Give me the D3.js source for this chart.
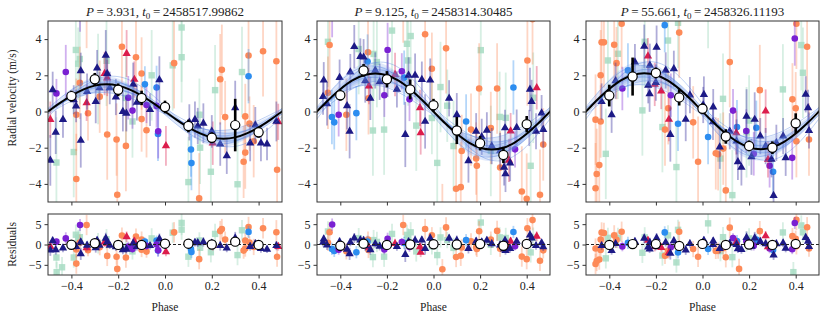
<!DOCTYPE html>
<html>
<head>
<meta charset="utf-8">
<script src="https://cdn.jsdelivr.net/npm/d3@7"></script>
<style>
  body { margin: 0; background: #fff; }
  svg text { font-family: "Liberation Serif", "DejaVu Serif", serif; fill: #222; }
  .axis text { font-size: 12px; }
  .axis line { stroke: #333; }
</style>
</head>
<body>
<svg id="chart" width="831" height="320"></svg>
<script>
// ---- data ----
var phaseTicks = [-0.4, -0.2, 0, 0.2, 0.4];
var rvTicks = [-4, -2, 0, 2, 4];
var resTicks = [-5, 0, 5];

var periods = ["3.931", "9.125", "55.661"];
var epochs = ["2458517.99862", "2458314.30485", "2458326.11193"];

// model curve sampled every 0.05 in phase
var modelPhase = [-0.55,-0.5,-0.45,-0.4,-0.35,-0.3,-0.25,-0.2,-0.15,-0.1,-0.05,0,0.05,0.1,0.15,0.2,0.25,0.3,0.35,0.4,0.45,0.5,0.55];
var p1Model = [-0.46,0,0.46,0.88,1.21,1.43,1.5,1.43,1.21,0.88,0.46,0,-0.46,-0.88,-1.21,-1.43,-1.5,-1.43,-1.21,-0.88,-0.46,0,0.46];
var p2Model = [-0.65,0,0.65,1.23,1.7,2.0,2.1,2.0,1.7,1.23,0.65,0,-0.65,-1.23,-1.7,-2.0,-2.1,-2.0,-1.7,-1.23,-0.65,0,0.65];
var p3Model = [-0.65,0,0.66,1.25,1.72,2.02,2.12,2.02,1.72,1.25,0.66,0,-0.64,-1.22,-1.68,-1.98,-2.08,-1.98,-1.68,-1.22,-0.64,0,0.66];

// posterior draws: amplitude scale and phase offset
var drawScale = [0.7, 0.8, 0.9, 1.1, 1.2, 1.3];
var drawShift = [-0.022, 0.018, -0.01, 0.012, -0.016, 0.024];

// points: [phase, rv, err, residual]
var p1Navy = [[-0.49,-2.7,1.4,-1.4],[-0.48,1.2,1.0,0.9],[-0.467,-1.15,1.2,-1.3],[-0.436,-0.45,1.0,-0.9],[-0.39,0.65,0.8,-0.2],[-0.38,0.3,0.9,-0.5],[-0.36,2.25,1.0,0.6],[-0.36,-1.6,1.5,-2.3],[-0.333,1.1,1.0,-0.2],[-0.29,2.4,1.0,1.0],[-0.296,0.55,1.2,-0.8],[-0.28,1.3,0.9,-0.2],[-0.253,3.1,1.4,1.5],[-0.247,2.1,1.0,0.6],[-0.236,1.3,0.9,-0.2],[-0.21,0.8,1.0,-0.6],[-0.18,0.0,1.1,-1.3],[-0.165,-0.1,1.0,-1.2],[-0.136,1.5,1.2,0.3],[-0.12,0.5,1.0,-0.5],[-0.064,0.1,0.9,-0.3],[-0.024,1.75,1.3,1.4],[0.104,-0.6,1.0,0.3],[0.128,-0.45,1.0,0.5],[0.14,-0.8,1.0,0.4],[0.164,-0.65,1.1,0.6],[0.2,-1.1,0.9,0.3],[0.236,-1.8,1.2,-0.3],[0.264,-2.45,1.0,-0.9],[0.3,0.2,1.5,1.6],[0.364,-1.75,1.0,-0.5],[0.386,-0.75,1.0,0.2],[0.41,-1.75,1.0,-1.0],[0.436,-1.8,0.9,-1.2],[0.476,-0.55,1.1,-0.3]];
var p1Crimson = [[-0.49,-0.45,1.0,-0.5],[-0.335,0.48,1.0,-0.8],[-0.258,2.1,1.2,0.6],[-0.247,1.85,1.0,0.3],[-0.164,3.2,1.3,1.9],[-0.131,1.77,1.0,0.8],[0.004,-1.9,1.1,-1.8],[0.204,-1.75,1.2,-0.3],[0.484,-0.57,1.0,-0.5]];
var p1Orange = [[-0.379,-3.73,2.5,-4.7],[-0.379,-0.18,2.0,-1.2],[-0.364,1.58,2.0,0.45],[-0.335,6.0,2.5,4.8],[-0.329,-0.1,1.5,-1.4],[-0.279,0.82,2.0,-0.65],[-0.247,-1.27,2.5,-2.8],[-0.207,-1.55,2.0,-3.0],[-0.204,-4.6,3.0,-6.0],[-0.184,3.58,2.0,2.2],[-0.167,-1.9,2.5,-3.2],[-0.124,3.0,2.0,1.95],[-0.1,2.1,2.0,1.2],[-0.1,-0.42,1.8,-1.3],[-0.079,-1.04,1.5,-1.75],[0.039,2.67,2.5,3.0],[0.146,-4.8,2.5,-3.6],[0.236,1.78,2.5,3.3],[0.243,2.3,2.5,3.8],[0.257,-0.31,2.0,1.2],[0.343,-0.27,1.8,1.0],[0.343,-2.27,2.0,-1.0],[0.336,-2.78,2.0,-1.5],[0.357,3.09,2.5,4.3],[0.361,-0.67,1.5,0.5],[0.379,-1.64,2.0,-0.6],[0.419,3.33,2.5,4.0],[0.476,2.78,3.0,3.0],[0.479,-3.22,2.5,-3.0]];
var p1Mint = [[-0.464,-2.82,2.5,-3.2],[-0.463,-9.0,2.5,-6.8],[-0.44,-8.5,2.5,-5.6],[-0.39,-2.24,2.5,-3.2],[-0.381,3.4,2.5,2.4],[-0.371,2.64,2.0,1.6],[-0.364,2.9,2.5,1.8],[-0.286,1.8,2.5,0.3],[-0.25,2.8,2.5,1.3],[-0.167,0.75,2.5,-0.55],[-0.139,-0.55,2.0,-1.7],[-0.057,2.0,2.5,1.5],[0.033,2.55,2.5,2.9],[0.071,4.64,3.0,5.3],[0.071,3.0,2.5,3.65],[0.1,-3.9,2.5,-3.0],[0.147,-0.18,2.0,1.0],[0.15,-2.0,2.0,-0.8],[0.196,-3.33,2.5,-1.9],[0.214,1.18,2.5,2.6],[0.31,-4.02,2.5,-2.6],[0.329,2.18,2.5,3.5]];
var p1Purple = [[-0.464,1.0,0.8,0.7],[-0.424,2.18,1.5,1.5],[-0.363,5.9,1.5,4.8],[-0.157,0.76,1.2,-0.5],[-0.139,0.05,1.0,-1.1],[-0.079,0.36,1.0,-0.35],[-0.036,0.31,1.2,0.0],[-0.029,-1.09,1.5,-1.4]];
var p1Blue = [[-0.086,1.5,1.0,0.7],[-0.036,1.33,1.2,1.0],[-0.03,-1.24,1.5,-1.5],[0.111,-2.1,1.5,-1.1],[0.113,-2.85,1.5,-1.85],[0.357,1.95,1.5,3.1]];

var p2Navy = [[-0.471,1.73,1.0,1.35],[-0.474,0.82,1.0,0.5],[-0.457,0.42,1.2,-0.14],[-0.403,1.87,1.0,0.67],[-0.371,0.31,1.3,-1.2],[-0.36,-1.09,1.5,-2.3],[-0.357,2.18,1.0,0.55],[-0.34,3.58,1.2,1.6],[-0.314,3.04,1.0,1.1],[-0.3,3.0,1.0,1.0],[-0.293,1.69,1.2,-0.33],[-0.271,0.73,1.2,-1.3],[-0.25,2.27,1.0,0.17],[-0.231,1.64,1.0,-0.45],[-0.197,2.0,1.2,0.0],[-0.157,1.22,1.0,-0.53],[-0.121,-1.27,1.8,-2.5],[-0.107,2.0,1.0,0.69],[-0.079,2.0,1.2,1.0],[-0.05,1.76,1.0,1.1],[-0.036,-0.55,1.5,-1.0],[-0.014,1.73,1.2,1.5],[0.067,0.73,1.0,1.5],[0.1,-0.18,1.2,1.0],[0.15,-2.73,1.2,-1.0],[0.183,-1.09,1.0,0.8],[0.207,-1.4,1.0,0.6],[0.229,-1.04,1.0,1.0],[0.25,-1.91,1.0,0.19],[0.286,-2.18,1.0,-0.13],[0.307,-0.91,1.0,1.0],[0.303,-3.09,1.0,-1.1],[0.309,-3.45,1.0,-1.5],[0.329,-2.85,1.0,-1.0],[0.357,-0.89,1.0,0.75],[0.411,-0.91,1.0,0.2],[0.414,1.22,1.2,2.3],[0.421,0.55,1.2,1.55],[0.44,-1.09,1.0,-0.3],[0.464,-0.09,1.0,0.38],[0.471,-1.0,1.0,-0.6]];
var p2Crimson = [[-0.277,1.4,1.0,-0.7],[-0.165,2.04,1.2,0.2],[-0.058,0.2,1.0,-0.55],[-0.055,-1.18,1.2,-1.9],[0.331,-1.08,1.0,0.8],[0.324,-2.7,1.2,-0.8],[0.443,1.31,1.2,2.0]];
var p2Orange = [[-0.446,3.67,2.5,3.0],[-0.453,1.04,2.0,0.43],[-0.374,-0.18,2.0,-1.67],[-0.281,3.27,2.0,1.2],[-0.279,0.73,2.0,-1.34],[-0.13,6.3,2.5,4.8],[-0.036,4.27,2.5,3.8],[-0.007,2.36,2.0,2.27],[0.038,-6.5,2.5,-6.1],[0.054,3.49,2.5,4.2],[0.121,-2.18,2.0,-0.73],[0.097,-4.27,2.5,-3.07],[0.117,-4.18,2.5,-2.77],[0.161,-1.0,2.0,0.78],[0.183,-2.6,2.0,-0.68],[0.186,-3.0,2.0,-1.08],[0.196,1.27,2.5,3.25],[0.246,-0.91,2.0,1.19],[0.273,1.27,2.5,3.35],[0.286,-3.09,2.0,-1.04],[0.403,2.82,2.5,4.0],[0.379,-4.42,2.5,-2.97],[0.4,-4.82,2.5,-3.6],[0.425,5.1,2.5,6.0],[0.457,-4.6,2.5,-4.0],[0.471,-1.82,2.0,-1.44]];
var p2Mint = [[-0.453,3.85,2.5,3.2],[-0.321,3.45,2.5,1.56],[-0.257,3.18,2.5,1.08],[-0.243,2.73,2.5,0.63],[-0.26,-1.05,2.5,-3.1],[-0.212,-1.0,2.5,-3.0],[-0.178,4.47,2.5,2.6],[-0.098,4.17,2.5,3.0],[-0.114,3.74,2.5,2.36],[-0.109,2.82,2.5,1.5],[-0.074,-0.78,2.5,-1.7],[-0.007,-0.36,2.0,-0.45],[0.016,-2.84,2.5,-2.6],[0.03,1.35,2.5,1.74],[0.059,0.32,2.0,1.08],[0.086,-1.91,2.5,-0.83],[0.203,3.39,2.5,5.4],[0.246,-2.18,2.5,-0.08],[0.284,-0.3,2.5,1.75],[0.31,-0.35,2.5,1.6],[0.417,-3.0,2.5,-1.94],[0.428,0.76,2.5,1.68]];
var p2Purple = [[-0.435,5.6,1.5,4.9],[-0.407,-0.18,1.2,-1.3],[-0.197,3.4,1.5,1.4],[-0.211,0.9,1.2,-1.2],[-0.136,2.22,1.0,0.6],[-0.103,0.67,1.2,-0.6],[0.35,-2.09,1.0,-0.4]];
var p2Blue = [[-0.436,-0.31,1.5,-1.1],[-0.426,-0.6,1.5,-1.57],[-0.331,-0.09,1.5,-1.9],[-0.283,2.76,1.5,0.7],[-0.126,1.87,1.5,0.37],[0.14,-0.55,1.5,1.07],[0.343,1.33,1.5,3.08]];

var p3Navy = [[-0.433,0.55,1.0,-0.3],[-0.39,-0.18,1.0,-1.5],[-0.373,1.7,1.0,0.2],[-0.29,2.73,1.0,0.7],[-0.25,3.6,1.2,1.5],[-0.233,1.45,1.0,-0.64],[-0.226,2.55,1.2,0.47],[-0.227,0.98,1.0,-1.1],[-0.2,1.6,1.0,-0.4],[-0.197,3.55,1.2,1.57],[-0.158,2.27,1.0,0.5],[-0.138,-1.27,1.5,-2.2],[-0.123,2.36,1.0,0.9],[-0.072,-0.44,1.2,-1.36],[-0.054,0.91,1.0,0.2],[0.006,0.94,1.0,1.0],[0.003,0.36,1.0,0.4],[0.046,0.24,1.0,0.84],[0.045,-0.57,1.0,0.0],[0.074,-1.97,1.2,-1.0],[0.117,-1.09,1.0,0.3],[0.146,-1.64,1.2,0.0],[0.152,-2.78,1.0,-1.07],[0.167,-3.09,1.0,-1.27],[0.189,-0.27,1.5,1.68],[0.21,-2.5,1.0,-0.47],[0.224,-0.44,1.5,1.6],[0.248,-1.36,1.0,0.74],[0.271,-1.91,1.0,0.17],[0.296,-2.64,1.0,-0.6],[0.305,-4.64,1.2,-2.6],[0.317,-1.73,1.0,0.18],[0.346,-1.36,1.0,0.37],[0.357,-2.56,1.0,-0.92],[0.443,0.95,1.0,1.7],[0.453,0.2,1.0,0.8],[0.457,-1.05,1.0,-0.5]];
var p3Crimson = [[-0.234,3.06,1.0,1.0],[-0.205,1.5,1.2,-0.5],[-0.177,1.13,1.0,-0.75],[-0.144,-0.44,1.2,-2.0],[0.145,-1.18,1.2,0.5],[0.271,0.02,1.2,2.1],[0.281,-2.65,1.0,-0.6]];
var p3Orange = [[-0.459,-0.45,2.5,-1.0],[-0.454,-3.45,2.5,-4.05],[-0.459,-4.24,2.5,-4.8],[-0.443,-2.96,2.5,-3.7],[-0.437,2.0,2.5,1.2],[-0.437,-0.55,2.0,-1.37],[-0.433,3.82,2.5,2.96],[-0.423,3.82,2.5,2.84],[-0.379,3.69,2.5,2.24],[-0.369,2.67,2.0,1.13],[-0.347,4.85,2.5,3.13],[-0.147,0.18,2.0,-1.5],[-0.161,-1.0,2.0,-2.78],[-0.1,4.36,2.5,3.13],[-0.04,-0.6,2.0,-1.12],[-0.019,-2.78,2.5,-3.03],[0.057,-2.31,2.0,-1.57],[0.067,-2.36,2.0,-1.5],[0.089,-2.05,2.0,-0.94],[0.1,-4.36,2.5,-3.13],[0.117,2.73,2.5,4.14],[0.157,-8.0,2.5,-6.0],[0.246,1.18,2.5,3.28],[0.386,0.67,2.0,2.05],[0.4,0.18,2.0,1.41],[0.403,-1.64,2.0,-0.44],[0.403,4.85,2.5,6.05],[0.457,-1.55,2.0,-0.99],[0.449,3.58,2.5,4.24]];
var p3Mint = [[-0.415,-2.34,2.5,-3.4],[-0.406,2.82,2.5,1.64],[-0.363,3.19,2.5,1.59],[-0.248,3.85,2.5,1.75],[-0.258,0.06,2.5,-2.03],[-0.148,3.92,2.5,2.24],[-0.172,-0.86,2.5,-2.71],[-0.112,-3.07,2.5,-4.4],[-0.105,4.9,2.5,3.6],[0.024,6.0,2.5,5.2],[0.088,0.7,2.5,1.8],[0.077,-2.6,2.5,-1.62],[0.128,-4.62,2.5,-3.11],[0.2,-0.5,2.5,1.5],[0.189,-1.15,2.5,0.8],[0.345,1.22,2.5,2.96],[0.39,-8.0,2.5,-6.8],[0.424,3.67,2.5,4.67],[0.431,2.14,2.5,3.02]];
var p3Purple = [[-0.344,1.27,1.2,-0.47],[-0.136,0.9,1.2,-0.69],[0.131,0.05,1.2,1.59],[0.188,-1.08,1.2,0.87],[0.22,-2.34,1.2,-0.28],[0.288,-3.0,1.2,-0.96],[0.385,-2.56,1.2,-1.17],[0.396,4.03,1.5,5.3]];
var p3Blue = [[-0.162,4.77,1.5,2.98],[-0.32,2.27,1.5,0.39],[-0.105,-0.68,1.5,-1.97],[0.024,-1.41,1.5,-1.1],[0.148,-0.86,1.5,0.82],[0.231,-0.9,1.5,1.19],[0.303,-3.33,1.5,-1.34]];

// binned: [phase, rv, err, residual, residual err]
var p1Bin = [[-0.4,0.85,0.3,-0.05,0.3],[-0.3,1.78,0.35,0.3,0.3],[-0.2,1.2,0.35,-0.1,0.3],[-0.1,0.75,0.4,-0.1,0.3],[0,0.25,0.35,0.2,0.3],[0.1,-0.8,0.35,0.2,0.3],[0.2,-1.45,0.3,0.0,0.3],[0.3,-0.75,1.45,0.7,0.8],[0.4,-1.15,0.3,-0.1,0.3]];
var p2Bin = [[-0.4,0.9,0.3,-0.3,0.3],[-0.3,2.27,0.35,0.2,0.3],[-0.2,1.78,0.45,-0.1,0.3],[-0.1,1.22,0.55,0.0,0.3],[0,0.35,0.35,0.05,0.3],[0.1,-1.05,0.75,0.0,0.3],[0.2,-1.75,0.4,0.1,0.3],[0.3,-2.4,0.45,-0.3,0.3],[0.4,-0.7,0.45,0.15,0.3]];
var p3Bin = [[-0.4,0.88,0.6,-0.1,0.3],[-0.3,1.93,1.05,0.1,0.3],[-0.2,2.13,0.3,0.1,0.3],[-0.1,0.78,0.45,-0.35,0.3],[0,0.15,0.3,0.15,0.3],[0.1,-1.38,0.4,-0.1,0.3],[0.2,-1.9,0.3,0.0,0.3],[0.3,-2.0,0.35,-0.1,0.3],[0.4,-0.65,0.55,0.15,0.3]];

// ---- layout ----
var panelX = [[48, 282], [317, 550], [586, 819]];
var mainTop = 21, mainBot = 202, resTop = 214, resBot = 275;

var seriesStyle = [
  {name: "mint",    color: "#a7dcc3", err: "#a7dcc3", errOp: 0.45, op: 0.85, shape: "square"},
  {name: "orange",  color: "#fd8a58", err: "#fd8a58", errOp: 0.35, op: 1, shape: "circle"},
  {name: "blue",    color: "#2c8df0", err: "#2c8df0", errOp: 0.35, op: 1, shape: "circle"},
  {name: "purple",  color: "#7a20d2", err: "#7a20d2", errOp: 0.35, op: 1, shape: "circle"},
  {name: "crimson", color: "#dc1d4c", err: "#dc1d4c", errOp: 0.35, op: 1, shape: "tri"},
  {name: "navy",    color: "#1d1a86", err: "#3a33a0", errOp: 0.4, op: 1, shape: "tri"}
];

var panels = [
  {model: p1Model, bin: p1Bin, sets: {mint: p1Mint, orange: p1Orange, blue: p1Blue, purple: p1Purple, crimson: p1Crimson, navy: p1Navy}},
  {model: p2Model, bin: p2Bin, sets: {mint: p2Mint, orange: p2Orange, blue: p2Blue, purple: p2Purple, crimson: p2Crimson, navy: p2Navy}},
  {model: p3Model, bin: p3Bin, sets: {mint: p3Mint, orange: p3Orange, blue: p3Blue, purple: p3Purple, crimson: p3Crimson, navy: p3Navy}}
];

var svg = d3.select("#chart");
var defs = svg.append("defs");

function drawMarkers(g, data, st, xs, ys, col) {
  if (st.shape == "circle") {
    g.selectAll(null).data(data).enter().append("circle")
      .attr("cx", function(d) { return xs(d[0]); })
      .attr("cy", function(d) { return ys(d[col]); })
      .attr("r", 3.3)
      .attr("fill", st.color).attr("opacity", st.op);
  } else if (st.shape == "square") {
    g.selectAll(null).data(data).enter().append("rect")
      .attr("x", function(d) { return xs(d[0]) - 3.2; })
      .attr("y", function(d) { return ys(d[col]) - 3.2; })
      .attr("width", 6.4).attr("height", 6.4)
      .attr("fill", st.color).attr("opacity", st.op);
  } else {
    var tri = d3.symbol().type(d3.symbolTriangle).size(30);
    g.selectAll(null).data(data).enter().append("path")
      .attr("d", tri)
      .attr("transform", function(d) { return "translate(" + xs(d[0]) + "," + ys(d[col]) + ")"; })
      .attr("fill", st.color).attr("opacity", st.op);
  }
}

function drawErrors(g, data, st, xs, ys, col) {
  g.selectAll(null).data(data).enter().append("line")
    .attr("x1", function(d) { return xs(d[0]); })
    .attr("x2", function(d) { return xs(d[0]); })
    .attr("y1", function(d) { return ys(d[col] - d[2]); })
    .attr("y2", function(d) { return ys(d[col] + d[2]); })
    .attr("stroke", st.err).attr("stroke-width", 1.8).attr("opacity", st.errOp);
}

function cleanAxis(a) {
  a.attr("font-family", null).attr("font-size", null);
  a.select(".domain").remove();
}

panels.forEach(function(p, k) {
  var x0 = panelX[k][0], x1 = panelX[k][1];
  var x = d3.scaleLinear().domain([-0.5, 0.5]).range([x0, x1]);
  var y = d3.scaleLinear().domain([-5, 5]).range([mainBot, mainTop]);
  var yr = d3.scaleLinear().domain([-7.5, 7.5]).range([resBot, resTop]);

  defs.append("clipPath").attr("id", "cm" + k).append("rect")
    .attr("x", x0).attr("y", mainTop).attr("width", x1 - x0).attr("height", mainBot - mainTop);
  defs.append("clipPath").attr("id", "cr" + k).append("rect")
    .attr("x", x0).attr("y", resTop).attr("width", x1 - x0).attr("height", resBot - resTop);

  var gm = svg.append("g").attr("clip-path", "url(#cm" + k + ")");
  var gr = svg.append("g").attr("clip-path", "url(#cr" + k + ")");

  // points with error bars
  seriesStyle.forEach(function(st) {
    var data = p.sets[st.name];
    drawErrors(gm, data, st, x, y, 1);
    drawMarkers(gm, data, st, x, y, 1);
    drawErrors(gr, data, st, x, yr, 3);
    drawMarkers(gr, data, st, x, yr, 3);
  });

  // posterior band
  for (var i = 0; i < 3; i++) {
    var a = drawScale[i], b = drawScale[5 - i], s = (drawShift[i] + drawShift[5 - i]) / 2 + (i - 1) * 0.012;
    var area = d3.area()
      .x(function(d, j) { return x(modelPhase[j] + s); })
      .y0(function(d) { return y(d * a); })
      .y1(function(d) { return y(d * b); })
      .curve(d3.curveCatmullRom);
    gm.append("path").datum(p.model).attr("d", area)
      .attr("fill", "#6d98ea").attr("opacity", 0.22);
  }
  drawScale.forEach(function(sc, i) {
    var ln = d3.line()
      .x(function(d, j) { return x(modelPhase[j] + drawShift[i]); })
      .y(function(d) { return y(d * sc); })
      .curve(d3.curveCatmullRom);
    gm.append("path").datum(p.model).attr("d", ln)
      .attr("fill", "none").attr("stroke", "#4a7ade").attr("stroke-width", 0.8).attr("opacity", 0.45);
  });

  // model
  var mline = d3.line()
    .x(function(d, j) { return x(modelPhase[j]); })
    .y(function(d) { return y(d); })
    .curve(d3.curveCatmullRom);
  gm.append("path").datum(p.model).attr("d", mline)
    .attr("fill", "none").attr("stroke", "#000").attr("stroke-width", 2);

  // zero line in residuals
  gr.append("line").attr("x1", x0).attr("x2", x1).attr("y1", yr(0)).attr("y2", yr(0))
    .attr("stroke", "#222").attr("stroke-width", 1).attr("stroke-dasharray", "3,2");

  // binned points
  [[gm, y, 1, 2], [gr, yr, 3, 4]].forEach(function(c) {
    var g = c[0], ys = c[1], vi = c[2], ei = c[3];
    g.selectAll(null).data(p.bin).enter().append("line")
      .attr("x1", function(d) { return x(d[0]); })
      .attr("x2", function(d) { return x(d[0]); })
      .attr("y1", function(d) { return ys(d[vi] - d[ei]); })
      .attr("y2", function(d) { return ys(d[vi] + d[ei]); })
      .attr("stroke", "#000").attr("stroke-width", 2.6);
    g.selectAll(null).data(p.bin).enter().append("circle")
      .attr("cx", function(d) { return x(d[0]); })
      .attr("cy", function(d) { return ys(d[vi]); })
      .attr("r", 4.6)
      .attr("fill", "#fff").attr("stroke", "#000").attr("stroke-width", 1.2);
  });

  // frames
  svg.append("rect").attr("x", x0).attr("y", mainTop).attr("width", x1 - x0).attr("height", mainBot - mainTop)
    .attr("fill", "none").attr("stroke", "#333").attr("stroke-width", 1);
  svg.append("rect").attr("x", x0).attr("y", resTop).attr("width", x1 - x0).attr("height", resBot - resTop)
    .attr("fill", "none").attr("stroke", "#333").attr("stroke-width", 1);

  // axes
  var ax = svg.append("g").attr("class", "axis").attr("transform", "translate(0," + mainBot + ")")
    .call(d3.axisBottom(x).tickValues(phaseTicks).tickSize(3.5).tickFormat(""));
  cleanAxis(ax);
  var axr = svg.append("g").attr("class", "axis").attr("transform", "translate(0," + resBot + ")")
    .call(d3.axisBottom(x).tickValues(phaseTicks).tickSize(3.5).tickPadding(3).tickFormat(d3.format(".1f")));
  cleanAxis(axr);
  var ay = svg.append("g").attr("class", "axis").attr("transform", "translate(" + x0 + ",0)")
    .call(d3.axisLeft(y).tickValues(rvTicks).tickSize(3.5).tickPadding(3).tickFormat(d3.format("d")));
  cleanAxis(ay);
  var ayr = svg.append("g").attr("class", "axis").attr("transform", "translate(" + x0 + ",0)")
    .call(d3.axisLeft(yr).tickValues(resTicks).tickSize(3.5).tickPadding(3).tickFormat(d3.format("d")));
  cleanAxis(ayr);

  // title
  var t = svg.append("text").attr("x", (x0 + x1) / 2).attr("y", 16)
    .attr("text-anchor", "middle").style("font-size", "13px");
  t.append("tspan").style("font-style", "italic").text("P");
  t.append("tspan").text("\u2009=\u2009" + periods[k] + ", ");
  t.append("tspan").style("font-style", "italic").text("t");
  t.append("tspan").attr("dy", 3).style("font-size", "9px").text("0");
  t.append("tspan").attr("dy", -3).text("\u2009=\u2009" + epochs[k]);

  svg.append("text").attr("x", (x0 + x1) / 2).attr("y", 311)
    .attr("text-anchor", "middle").style("font-size", "11.5px").text("Phase");
});

svg.append("text").attr("transform", "translate(16,98) rotate(-90)")
  .attr("text-anchor", "middle").style("font-size", "11.5px").text("Radial velocity (m/s)");
svg.append("text").attr("transform", "translate(16," + ((resTop + resBot) / 2) + ") rotate(-90)")
  .attr("text-anchor", "middle").style("font-size", "11.5px").text("Residuals");
</script>
</body>
</html>
